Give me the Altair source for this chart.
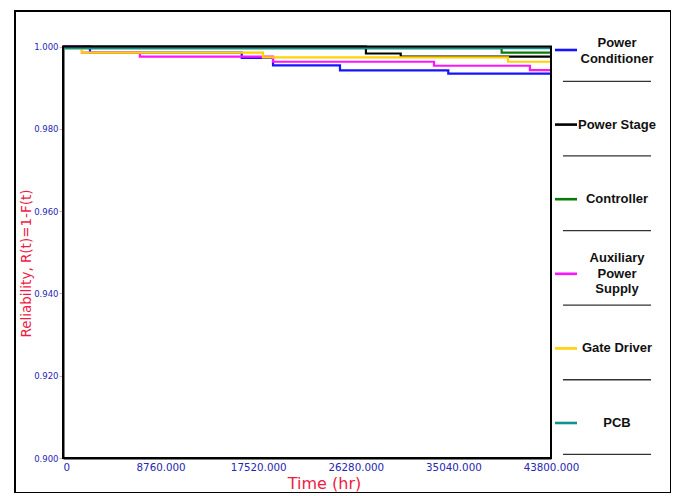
import altair as alt
import pandas as pd

# ---------------- data ----------------
SERIES = ["Power Conditioner", "Power Stage", "Controller",
          "Auxiliary Power Supply", "Gate Driver", "PCB"]
LEGEND_LABELS = ["Power\nConditioner", "Power Stage", "Controller",
                 "Auxiliary\nPower\nSupply", "Gate Driver", "PCB"]
COLORS = ["#1414ff", "#000000", "#0b7a0b", "#ff14ff", "#ffd200", "#119191"]

# step (time in hr, reliability) pairs
PC_T = [0, 2420, 16040, 18850, 24860, 34580, 43800]
PC_R = [1.0, 0.9985, 0.9972, 0.9954, 0.9942, 0.9934, 0.9934]
PS_T = [0, 27190, 30310, 43800]
PS_R = [1.0, 0.9983, 0.99755, 0.99755]
CT_T = [0, 39370, 43800]
CT_R = [0.9996, 0.9985, 0.9985]
AP_T = [0, 1700, 6900, 18850, 33300, 41910, 43800]
AP_R = [1.0, 0.9985, 0.99756, 0.9963, 0.99532, 0.99427, 0.99427]
GD_T = [0, 1700, 17950, 39940, 43800]
GD_R = [0.9996, 0.9985, 0.99737, 0.9963, 0.9963]
PCB_T = [0, 43800]
PCB_R = [0.9996, 0.9996]

X_TICKS = [0, 8760, 17520, 26280, 35040, 43800]
Y_TICKS = [0.90, 0.92, 0.94, 0.96, 0.98, 1.00]
X_DOMAIN = [0, 43800]
Y_DOMAIN = [0.90, 1.00]

TIMES = [PC_T, PS_T, CT_T, AP_T, GD_T, PCB_T]
RELS = [PC_R, PS_R, CT_R, AP_R, GD_R, PCB_R]
DRAW_ORDER = [0, 2, 1, 3, 4, 5]

# ---------------- layout ----------------
W, H = 656, 482
PLOT_X = [48, 536]
PLOT_Y = [447, 35.5]

TICK_BLUE = "#2626b4"
TITLE_RED = "#ee1b45"

xscale = alt.Scale(domain=X_DOMAIN, range=PLOT_X, nice=False, zero=False)
yscale = alt.Scale(domain=Y_DOMAIN, range=PLOT_Y, nice=False, zero=False)

xaxis = alt.Axis(
    values=X_TICKS,
    labelExpr="datum.value == 0 ? '0' : format(datum.value, '.3f')",
    labelAlign={"condition": {"test": "datum.value == 0", "value": "left"},
                "value": "center"},
    offset=-(H - PLOT_Y[0]),
    ticks=False, grid=False,
    domainColor="black", domainWidth=2,
    labelFont="DejaVu Sans", labelFontSize=10.3, labelColor=TICK_BLUE,
    labelPadding=4, labelOverlap=False, labelFlush=False,
    title="Time (hr)", titleColor=TITLE_RED, titleFont="DejaVu Sans",
    titleFontSize=16, titleFontWeight="normal",
    titleX=309, titleY=17.5, titleAlign="center", titleBaseline="top",
)
yaxis = alt.Axis(
    values=Y_TICKS, format=".3f",
    offset=-PLOT_X[0],
    ticks=True, tickSize=4, tickColor="#f2a0a0", tickWidth=1, grid=False,
    domainColor="black", domainWidth=2,
    labelFont="DejaVu Sans", labelFontSize=8.5, labelColor=TICK_BLUE,
    labelPadding=1, labelOverlap=False, labelFlush=False,
    title="Reliability, R(t)=1-F(t)", titleColor=TITLE_RED,
    titleFont="DejaVu Sans", titleFontSize=13.5, titleFontWeight="normal",
    titleAngle=270, titleX=-37, titleY=252, titleAlign="center",
    titleBaseline="middle",
)

layers = []
for i in DRAW_ORDER:
    df = pd.DataFrame({"t": TIMES[i], "r": RELS[i], "s": SERIES[i]})
    layers.append(
        alt.Chart(df).mark_line(interpolate="step-after", strokeWidth=2.2,
                                color=COLORS[i]).encode(
            x=alt.X("t:Q", scale=xscale, axis=xaxis),
            y=alt.Y("r:Q", scale=yscale, axis=yaxis),
        )
    )

frame_df = pd.DataFrame({"t": [X_DOMAIN[0]], "t2": [X_DOMAIN[1]],
                         "r": [Y_DOMAIN[0]], "r2": [Y_DOMAIN[1]]})
frame = alt.Chart(frame_df).mark_rect(filled=False, stroke="black",
                                      strokeWidth=2).encode(
    x=alt.X("t:Q", scale=xscale, axis=xaxis), x2="t2:Q",
    y=alt.Y("r:Q", scale=yscale, axis=yaxis), y2="r2:Q",
)

main = alt.layer(*layers, frame)

# ---------------- custom legend ----------------
leg_df = pd.DataFrame({"label": LEGEND_LABELS, "color": COLORS,
                       "idx": list(range(len(SERIES)))})
leg_df["nlines"] = leg_df["label"].str.count("\n") + 1
sep_df = pd.DataFrame({"idx": [i + 0.42 for i in range(len(SERIES))]})
lscale = alt.Scale(domain=[0, 5], range=[39, 412], nice=False, zero=False)

swatch = alt.Chart(leg_df).mark_rule(strokeWidth=2.6).encode(
    x=alt.value(540), x2=alt.value(562),
    y=alt.Y("idx:Q", scale=lscale, axis=None),
    color=alt.Color("color:N", scale=None, legend=None),
)
seps = alt.Chart(sep_df).mark_rule(strokeWidth=1.3, color="#333333").encode(
    x=alt.value(548), x2=alt.value(636),
    y=alt.Y("idx:Q", scale=lscale, axis=None),
)
LINE_H = 15.5
text_layers = []
for n, dy in [(1, 0), (2, -7), (3, -LINE_H)]:
    text_layers.append(
        alt.Chart(leg_df).transform_filter(alt.datum.nlines == n).mark_text(
            font="Liberation Sans", fontWeight="bold", fontSize=13,
            lineBreak="\n", lineHeight=LINE_H, align="center",
            baseline="middle", color="#111111", dy=dy,
        ).encode(
            x=alt.value(602),
            y=alt.Y("idx:Q", scale=lscale, axis=None),
            text="label:N",
        )
    )
legend = alt.layer(swatch, seps, *text_layers)

chart = alt.layer(main, legend).resolve_scale(y="independent").properties(
    width=W, height=H,
    padding={"left": 7, "top": 3, "right": 0, "bottom": 0},
    background="white",
).configure_view(stroke="black", strokeWidth=2)

chart.save("out.html", embed_options={"renderer": "svg", "actions": False})
